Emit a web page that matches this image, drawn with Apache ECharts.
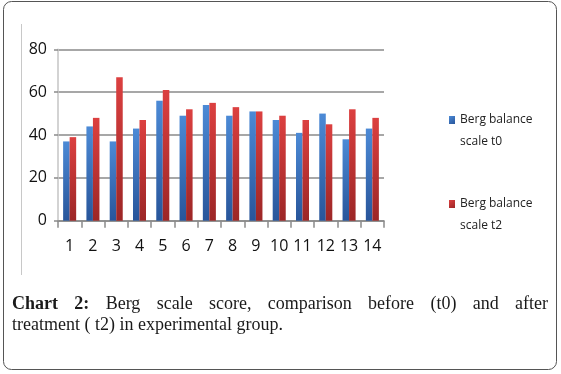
<!DOCTYPE html>
<html><head><meta charset="utf-8">
<script src="https://cdn.jsdelivr.net/npm/echarts@6/dist/echarts.min.js"></script>
<style>html,body{margin:0;padding:0;background:#fff}#c{width:561px;height:374px}</style>
</head><body><div id="c"></div>
<script>
const categories = ['1','2','3','4','5','6','7','8','9','10','11','12','13','14'];
const t0Values = [37, 44, 37, 43, 56, 49, 54, 49, 51, 47, 41, 50, 38, 43];
const t2Values = [39, 48, 67, 47, 61, 52, 55, 53, 51, 49, 47, 45, 52, 48];
const seriesNames = ['Berg balance scale t0', 'Berg balance scale t2'];
const yTicks = [0, 20, 40, 60, 80];
const captionLine1Bold = ['Chart', '2:'];
const captionLine1Rest = ['Berg', 'scale', 'score,', 'comparison', 'before', '(t0)', 'and', 'after'];
const captionLine2 = 'treatment ( t2) in experimental group.';

const chart = echarts.init(document.getElementById('c'), null, {renderer: 'canvas'});

const capFont = "'Liberation Serif', 'Times New Roman', serif";
const capSize = 18;
const cv = document.createElement('canvas').getContext('2d');
const words = captionLine1Bold.map(w => ({t: w, b: true})).concat(captionLine1Rest.map(w => ({t: w, b: false})));
let totalW = 0;
words.forEach(w => {
  cv.font = (w.b ? 'bold ' : '') + capSize + 'px ' + capFont;
  w.w = cv.measureText(w.t).width;
  totalW += w.w;
});
const x0 = 12, x1 = 548;
const gap = (x1 - x0 - totalW) / (words.length - 1);
let cx = x0;
const capElems = [];
words.forEach(w => {
  capElems.push({
    type: 'text', left: cx, top: 295, silent: true,
    style: {text: w.t, font: (w.b ? 'bold ' : '') + capSize + 'px ' + capFont, fill: '#1a1a1a'}
  });
  cx += w.w + gap;
});
capElems.push({
  type: 'text', left: x0, top: 316, silent: true,
  style: {text: captionLine2, font: capSize + 'px ' + capFont, fill: '#1a1a1a'}
});

function grad(light, dark) {
  return new echarts.graphic.LinearGradient(0, 0, 1, 1, [
    {offset: 0, color: light}, {offset: 1, color: dark}
  ]);
}

chart.setOption({
  animation: false,
  backgroundColor: '#fff',
  grid: {left: 58, right: 177, top: 49.3, bottom: 153.3, containLabel: false},
  legend: {
    orient: 'vertical', left: 444, top: 82, itemWidth: 6, itemHeight: 8, itemGap: 18,
    icon: 'rect',
    data: seriesNames,
    formatter: n => ' \n' + n.replace(' scale', '\nscale'),
    textStyle: {fontFamily: "'Open Sans', sans-serif", fontSize: 12, color: '#222', lineHeight: 22}
  },
  xAxis: {
    type: 'category', data: categories,
    axisLine: {lineStyle: {color: '#8a8a8a', width: 1.5}},
    axisTick: {show: true, length: 7, lineStyle: {color: '#8a8a8a', width: 1.5}},
    axisLabel: {interval: 0, margin: 18, fontFamily: "'Open Sans', sans-serif", fontSize: 16, color: '#111'},
    splitLine: {show: false}
  },
  yAxis: {
    type: 'value', min: 0, max: 80, interval: 20,
    axisLine: {show: true, lineStyle: {color: '#c4c4c4', width: 1.5}},
    axisTick: {show: true, length: 4, lineStyle: {color: '#8a8a8a', width: 1.5}},
    axisLabel: {margin: 11, fontFamily: "'Open Sans', sans-serif", fontSize: 16, color: '#111',
      formatter: v => yTicks.includes(v) ? String(v) : ''},
    splitLine: {show: true, lineStyle: {color: '#8a8a8a', width: 1.5}}
  },
  series: [
    {name: seriesNames[0], type: 'bar', data: t0Values, barGap: '0%', barCategoryGap: '44%',
     itemStyle: {color: grad('#4c8ad6', '#28559a')}},
    {name: seriesNames[1], type: 'bar', data: t2Values, barGap: '0%', barCategoryGap: '44%',
     itemStyle: {color: grad('#dc4040', '#9c2626')}}
  ],
  graphic: [
    {type: 'rect', silent: true, z: -1,
     shape: {x: 3.5, y: 1.5, width: 553, height: 368, r: 8},
     style: {fill: 'none', stroke: '#555', lineWidth: 1}},
    {type: 'line', silent: true,
     shape: {x1: 21.5, y1: 24, x2: 21.5, y2: 275},
     style: {stroke: '#c8c8c8', lineWidth: 1}}
  ].concat(capElems)
});
</script></body></html>
